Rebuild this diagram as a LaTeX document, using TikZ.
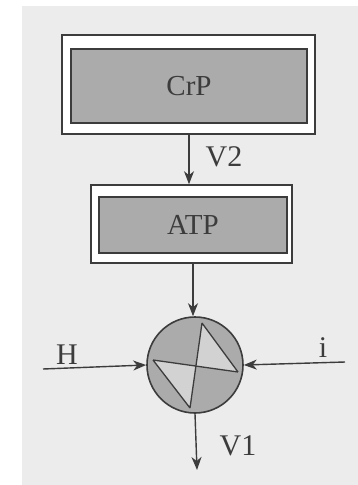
\documentclass[tikz,border=0pt]{standalone}
\usepackage{fontspec}
\setmainfont{Liberation Serif}
\usetikzlibrary{arrows.meta}
\definecolor{ink}{HTML}{3C3C3C}
\definecolor{boxgrey}{HTML}{ABABAB}
\definecolor{light}{HTML}{D2D2D2}
\definecolor{paper}{HTML}{ECECEC}
\tikzset{
  outerbox/.style={draw=ink, line width=1.6pt, fill=white, inner sep=0pt},
  innerbox/.style={draw=ink, line width=1.6pt, fill=boxgrey, inner sep=0pt, font=\fontsize{29}{32}\selectfont, text=ink},
  flow/.style={draw=ink, line width=1.4pt, -{Stealth[length=13pt,width=10pt,inset=4pt]}},
  lbl/.style={font=\fontsize{30}{33}\selectfont, text=ink, inner sep=0pt},
  pumpstyle/.style={circle, draw=ink, line width=1.6pt, fill=boxgrey, minimum size=96pt, inner sep=0pt}
}
\begin{document}
\begin{tikzpicture}[x=1pt,y=-1pt]
\useasboundingbox (0,0) rectangle (358,485);
\fill[white] (0,0) rectangle (358,485);
\fill[paper] (22,6) rectangle (358,485);
% CrP
\node[outerbox, minimum width=253pt, minimum height=99pt] (crpo) at (188.5,84.5) {};
\node[innerbox, minimum width=236pt, minimum height=74pt] (crpi) at (189,86) {CrP};
% ATP
\node[outerbox, minimum width=201pt, minimum height=78pt] (atpo) at (191.5,224) {};
\node[innerbox, minimum width=188pt, minimum height=56pt] (atpi) at (193,225) {ATP};
% pump
\node[pumpstyle] (pump) at (195,365) {};
\coordinate (pt) at (202,323);
\coordinate (pb) at (190,408);
\coordinate (pl) at (153,360);
\coordinate (pr) at (238,372);
\coordinate (px) at (196,366);
\fill[light] (pt) -- (pr) -- (px) -- cycle;
\fill[light] (pl) -- (pb) -- (px) -- cycle;
\draw[ink, line width=1.3pt, line join=round] (pt) -- (pb) (pl) -- (pr) (pt) -- (pr) (pl) -- (pb);
% connectors
\draw[flow] (crpo.south -| 189,0) -- (189,0 |- atpo.north);
\draw[flow] (atpo.south -| 193,0) -- (193,0 |- pump.north);
\coordinate (hs) at (43,369);
\coordinate (is) at (345,362);
\coordinate (v1e) at (197,470);
\draw[flow] (hs) -- (pump.west);
\draw[flow] (is) -- (pump.east);
\draw[flow] (pump.south) -- (v1e);
% labels
\node[lbl] (v2l) at (224,157) {V2};
\node[lbl] (hl) at (67,355) {H};
\node[lbl] (il) at (323,348) {i};
\node[lbl] (v1l) at (238,446) {V1};
\end{tikzpicture}
\end{document}
